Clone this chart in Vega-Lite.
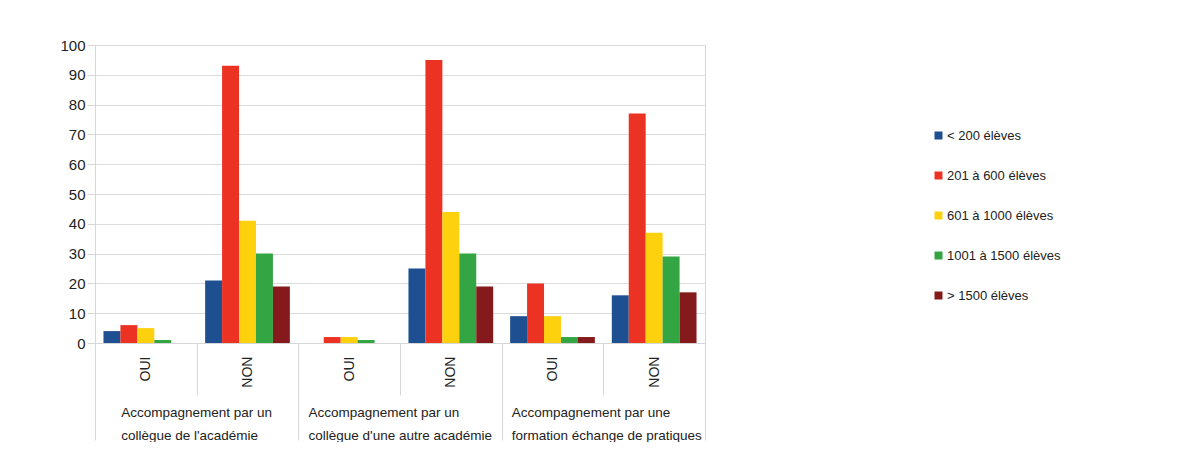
{
  "$schema": "https://vega.github.io/schema/vega-lite/v6.json",
  "width": 610,
  "height": 298,
  "padding": {"left": 59, "top": 38, "right": 0, "bottom": 0},
  "background": "white",
  "config": {
    "font": "Liberation Sans, Arial, sans-serif",
    "view": {"stroke": "#d6d6d6", "strokeWidth": 1}
  },
  "data": {
    "values": [
      {"group": "Accompagnement par un\ncollègue de l'académie", "col": "OUI 1", "size": "< 200 élèves", "value": 4},
      {"group": "Accompagnement par un\ncollègue de l'académie", "col": "OUI 1", "size": "201 à 600 élèves", "value": 6},
      {"group": "Accompagnement par un\ncollègue de l'académie", "col": "OUI 1", "size": "601 à 1000 élèves", "value": 5},
      {"group": "Accompagnement par un\ncollègue de l'académie", "col": "OUI 1", "size": "1001 à 1500 élèves", "value": 1},
      {"group": "Accompagnement par un\ncollègue de l'académie", "col": "OUI 1", "size": "> 1500 élèves", "value": 0},
      {"group": "Accompagnement par un\ncollègue de l'académie", "col": "NON 1", "size": "< 200 élèves", "value": 21},
      {"group": "Accompagnement par un\ncollègue de l'académie", "col": "NON 1", "size": "201 à 600 élèves", "value": 93},
      {"group": "Accompagnement par un\ncollègue de l'académie", "col": "NON 1", "size": "601 à 1000 élèves", "value": 41},
      {"group": "Accompagnement par un\ncollègue de l'académie", "col": "NON 1", "size": "1001 à 1500 élèves", "value": 30},
      {"group": "Accompagnement par un\ncollègue de l'académie", "col": "NON 1", "size": "> 1500 élèves", "value": 19},
      {"group": "Accompagnement par un\ncollègue d'une autre académie", "col": "OUI 2", "size": "< 200 élèves", "value": 0},
      {"group": "Accompagnement par un\ncollègue d'une autre académie", "col": "OUI 2", "size": "201 à 600 élèves", "value": 2},
      {"group": "Accompagnement par un\ncollègue d'une autre académie", "col": "OUI 2", "size": "601 à 1000 élèves", "value": 2},
      {"group": "Accompagnement par un\ncollègue d'une autre académie", "col": "OUI 2", "size": "1001 à 1500 élèves", "value": 1},
      {"group": "Accompagnement par un\ncollègue d'une autre académie", "col": "OUI 2", "size": "> 1500 élèves", "value": 0},
      {"group": "Accompagnement par un\ncollègue d'une autre académie", "col": "NON 2", "size": "< 200 élèves", "value": 25},
      {"group": "Accompagnement par un\ncollègue d'une autre académie", "col": "NON 2", "size": "201 à 600 élèves", "value": 95},
      {"group": "Accompagnement par un\ncollègue d'une autre académie", "col": "NON 2", "size": "601 à 1000 élèves", "value": 44},
      {"group": "Accompagnement par un\ncollègue d'une autre académie", "col": "NON 2", "size": "1001 à 1500 élèves", "value": 30},
      {"group": "Accompagnement par un\ncollègue d'une autre académie", "col": "NON 2", "size": "> 1500 élèves", "value": 19},
      {"group": "Accompagnement par une\nformation échange de pratiques", "col": "OUI 3", "size": "< 200 élèves", "value": 9},
      {"group": "Accompagnement par une\nformation échange de pratiques", "col": "OUI 3", "size": "201 à 600 élèves", "value": 20},
      {"group": "Accompagnement par une\nformation échange de pratiques", "col": "OUI 3", "size": "601 à 1000 élèves", "value": 9},
      {"group": "Accompagnement par une\nformation échange de pratiques", "col": "OUI 3", "size": "1001 à 1500 élèves", "value": 2},
      {"group": "Accompagnement par une\nformation échange de pratiques", "col": "OUI 3", "size": "> 1500 élèves", "value": 2},
      {"group": "Accompagnement par une\nformation échange de pratiques", "col": "NON 3", "size": "< 200 élèves", "value": 16},
      {"group": "Accompagnement par une\nformation échange de pratiques", "col": "NON 3", "size": "201 à 600 élèves", "value": 77},
      {"group": "Accompagnement par une\nformation échange de pratiques", "col": "NON 3", "size": "601 à 1000 élèves", "value": 37},
      {"group": "Accompagnement par une\nformation échange de pratiques", "col": "NON 3", "size": "1001 à 1500 élèves", "value": 29},
      {"group": "Accompagnement par une\nformation échange de pratiques", "col": "NON 3", "size": "> 1500 élèves", "value": 17}
    ]
  },
  "layer": [
    {
      "mark": {"type": "bar"},
      "encoding": {
        "x": {
          "field": "col", "type": "nominal", "sort": null, "title": null,
          "scale": {"paddingInner": 0, "paddingOuter": 0},
          "axis": {
            "orient": "bottom",
            "labelExpr": "isString(datum.value) ? split(datum.value, ' ')[0] : ''",
            "labelAngle": -90, "labelAlign": "right", "labelBaseline": "middle",
            "labelPadding": -39, "labelFontSize": 14, "labelColor": "#222",
            "tickBand": "extent", "tickSize": 52, "tickColor": "#d6d6d6",
            "domainColor": "#d6d6d6", "grid": false
          }
        },
        "xOffset": {
          "field": "size", "type": "nominal",
          "scale": {"domain": ["< 200 élèves", "201 à 600 élèves", "601 à 1000 élèves", "1001 à 1500 élèves", "> 1500 élèves"], "paddingInner": 0, "paddingOuter": 0.5}
        },
        "y": {
          "field": "value", "type": "quantitative", "title": null,
          "scale": {"domain": [0, 100], "nice": false},
          "axis": {
            "values": [0, 10, 20, 30, 40, 50, 60, 70, 80, 90, 100],
            "labelFontSize": 15, "labelColor": "#222", "labelPadding": 2,
            "tickSize": 8, "tickColor": "#d6d6d6", "domainColor": "#d6d6d6",
            "gridColor": "#dcdcdc"
          }
        },
        "color": {
          "field": "size", "type": "nominal",
          "scale": {
            "domain": ["< 200 élèves", "201 à 600 élèves", "601 à 1000 élèves", "1001 à 1500 élèves", "> 1500 élèves"],
            "range": ["#1d4f91", "#ec3323", "#fdd10e", "#33a543", "#851a1d"]
          },
          "legend": {
            "title": null, "orient": "none", "legendX": 837, "legendY": 84,
            "symbolType": "square", "symbolSize": 64, "symbolStrokeWidth": 0,
            "labelFontSize": 13, "labelColor": "#222", "labelOffset": 2, "rowPadding": 26
          }
        }
      }
    },
    {
      "mark": {"type": "point", "opacity": 0},
      "encoding": {
        "x": {
          "field": "group", "type": "nominal", "sort": null, "title": null,
          "scale": {"paddingInner": 0, "paddingOuter": 0},
          "axis": {
            "orient": "bottom", "domain": false, "grid": false,
            "labelExpr": "isString(datum.value) ? split(datum.value, '\\n') : ''",
            "labelAngle": 0, "labelAlign": "left", "labelBaseline": "top",
            "labelPadding": -35, "labelFontSize": 13.5, "labelColor": "#222", "labelLineHeight": 23,
            "labelLimit": 0,
            "labelOffset": {"condition": {"test": "isString(datum.value) && indexof(datum.value, 'collègue de') >= 0", "value": -76}, "value": -92},
            "tickBand": "extent", "tickSize": 97, "tickColor": "#d6d6d6"
          }
        }
      }
    }
  ],
  "resolve": {"scale": {"x": "independent"}, "axis": {"x": "independent"}}
}
